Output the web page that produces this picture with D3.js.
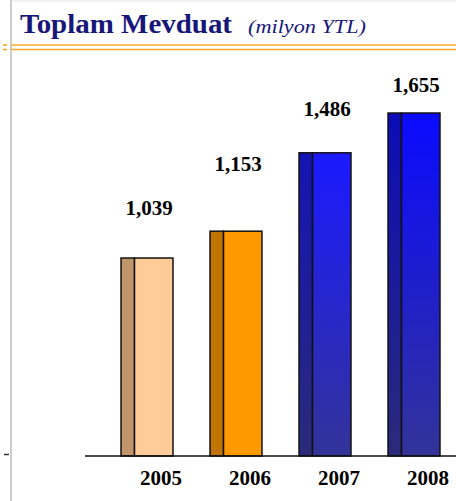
<!DOCTYPE html>
<html>
<head>
<meta charset="utf-8">
<script src="https://cdn.jsdelivr.net/npm/d3@7"></script>
<style>
  body { margin: 0; background: #fff; }
</style>
</head>
<body>
<svg id="chart" width="456" height="501"></svg>
<script>
// data
const years = ["2005", "2006", "2007", "2008"];
const deposits = [1039, 1153, 1486, 1655];

// colours per bar: face top, face bottom, side top, side bottom
const faceTop = ["#ffcc99", "#ff9900", "#1a1aff", "#0a0aff"];
const faceBottom = ["#ffcc99", "#ff9900", "#333399", "#333399"];
const sideTop = ["#c0956a", "#c27400", "#1414b4", "#0c0cb8"];
const sideBottom = ["#c0956a", "#c27400", "#2a2a7a", "#2a2a7a"];
// how far each value label floats above its bar
const labelGap = [43, 60, 37, 21];

const svg = d3.select("#chart"),
  width = +svg.attr("width"),
  height = +svg.attr("height");

const baseY = 456;

const x = d3.scaleBand()
  .domain(years)
  .range([102.5, 458.5])
  .paddingInner(0.416)
  .paddingOuter(0.208);

// value axis does not start at zero
const y = d3.scaleLinear()
  .domain([198, 1800])
  .range([baseY, baseY - (1800 - 198) * 0.2354]);

// frame lines
svg.append("line")
  .attr("x1", 11).attr("x2", 11).attr("y1", 0).attr("y2", height)
  .attr("stroke", "#cccccc").attr("stroke-width", 2);
svg.append("line")
  .attr("x1", 11).attr("x2", width).attr("y1", 1).attr("y2", 1)
  .attr("stroke", "#e4e4e4").attr("stroke-width", 1);
svg.append("line")
  .attr("x1", 4).attr("x2", 9).attr("y1", 454.5).attr("y2", 454.5)
  .attr("stroke", "#333").attr("stroke-width", 1.5);

// title
svg.append("text")
  .attr("x", 20).attr("y", 33)
  .attr("textLength", 212)
  .attr("lengthAdjust", "spacingAndGlyphs")
  .style("font-family", "'Liberation Serif', 'Times New Roman', serif")
  .style("font-weight", "bold")
  .style("font-size", "28px")
  .style("fill", "#17177a")
  .text("Toplam Mevduat");
svg.append("text")
  .attr("x", 248).attr("y", 33)
  .attr("textLength", 118)
  .attr("lengthAdjust", "spacingAndGlyphs")
  .style("font-family", "'Liberation Serif', 'Times New Roman', serif")
  .style("font-style", "italic")
  .style("font-size", "18px")
  .style("fill", "#17177a")
  .text("(milyon YTL)");

// orange double rule
[45, 49.5].forEach(function(yy) {
  svg.append("line")
    .attr("x1", 11).attr("x2", width).attr("y1", yy).attr("y2", yy)
    .attr("stroke", "#ffa82e").attr("stroke-width", 1.6);
  svg.append("line")
    .attr("x1", 3).attr("x2", 7).attr("y1", yy).attr("y2", yy)
    .attr("stroke", "#ffa82e").attr("stroke-width", 1.6);
});

// gradients
const defs = svg.append("defs");
years.forEach(function(yr, i) {
  const gf = defs.append("linearGradient").attr("id", "face" + i)
    .attr("x1", 0).attr("x2", 0).attr("y1", 0).attr("y2", 1);
  gf.append("stop").attr("offset", "0%").attr("stop-color", faceTop[i]);
  gf.append("stop").attr("offset", "100%").attr("stop-color", faceBottom[i]);
  const gs = defs.append("linearGradient").attr("id", "side" + i)
    .attr("x1", 0).attr("x2", 0).attr("y1", 0).attr("y2", 1);
  gs.append("stop").attr("offset", "0%").attr("stop-color", sideTop[i]);
  gs.append("stop").attr("offset", "100%").attr("stop-color", sideBottom[i]);
});

const sideW = x.bandwidth() * 0.26;

const bars = svg.append("g")
  .selectAll("g")
  .data(years)
  .join("g");

bars.append("rect")
  .attr("x", d => x(d))
  .attr("y", (d, i) => y(deposits[i]))
  .attr("width", sideW)
  .attr("height", (d, i) => baseY - y(deposits[i]))
  .attr("fill", (d, i) => "url(#side" + i + ")")
  .attr("stroke", "#111").attr("stroke-width", 1.5);

bars.append("rect")
  .attr("x", d => x(d) + sideW)
  .attr("y", (d, i) => y(deposits[i]))
  .attr("width", x.bandwidth() - sideW)
  .attr("height", (d, i) => baseY - y(deposits[i]))
  .attr("fill", (d, i) => "url(#face" + i + ")")
  .attr("stroke", "#111").attr("stroke-width", 1.5);

// value labels
svg.append("g")
  .selectAll("text")
  .data(years)
  .join("text")
  .attr("x", d => x(d) + x.bandwidth() / 2 + 2)
  .attr("y", (d, i) => y(deposits[i]) - labelGap[i])
  .attr("text-anchor", "middle")
  .style("font-family", "'Liberation Serif', 'Times New Roman', serif")
  .style("font-weight", "bold")
  .style("font-size", "21px")
  .style("fill", "#000")
  .text((d, i) => d3.format(",")(deposits[i]));

// axis baseline
svg.append("line")
  .attr("x1", 85).attr("x2", width).attr("y1", baseY).attr("y2", baseY)
  .attr("stroke", "#111").attr("stroke-width", 1.5);

// year labels
svg.append("g")
  .selectAll("text")
  .data(years)
  .join("text")
  .attr("x", d => x(d) + x.bandwidth() / 2 + 14)
  .attr("y", 485)
  .attr("text-anchor", "middle")
  .style("font-family", "'Liberation Serif', 'Times New Roman', serif")
  .style("font-weight", "bold")
  .style("font-size", "21px")
  .style("fill", "#000")
  .text(d => d);
</script>
</body>
</html>
